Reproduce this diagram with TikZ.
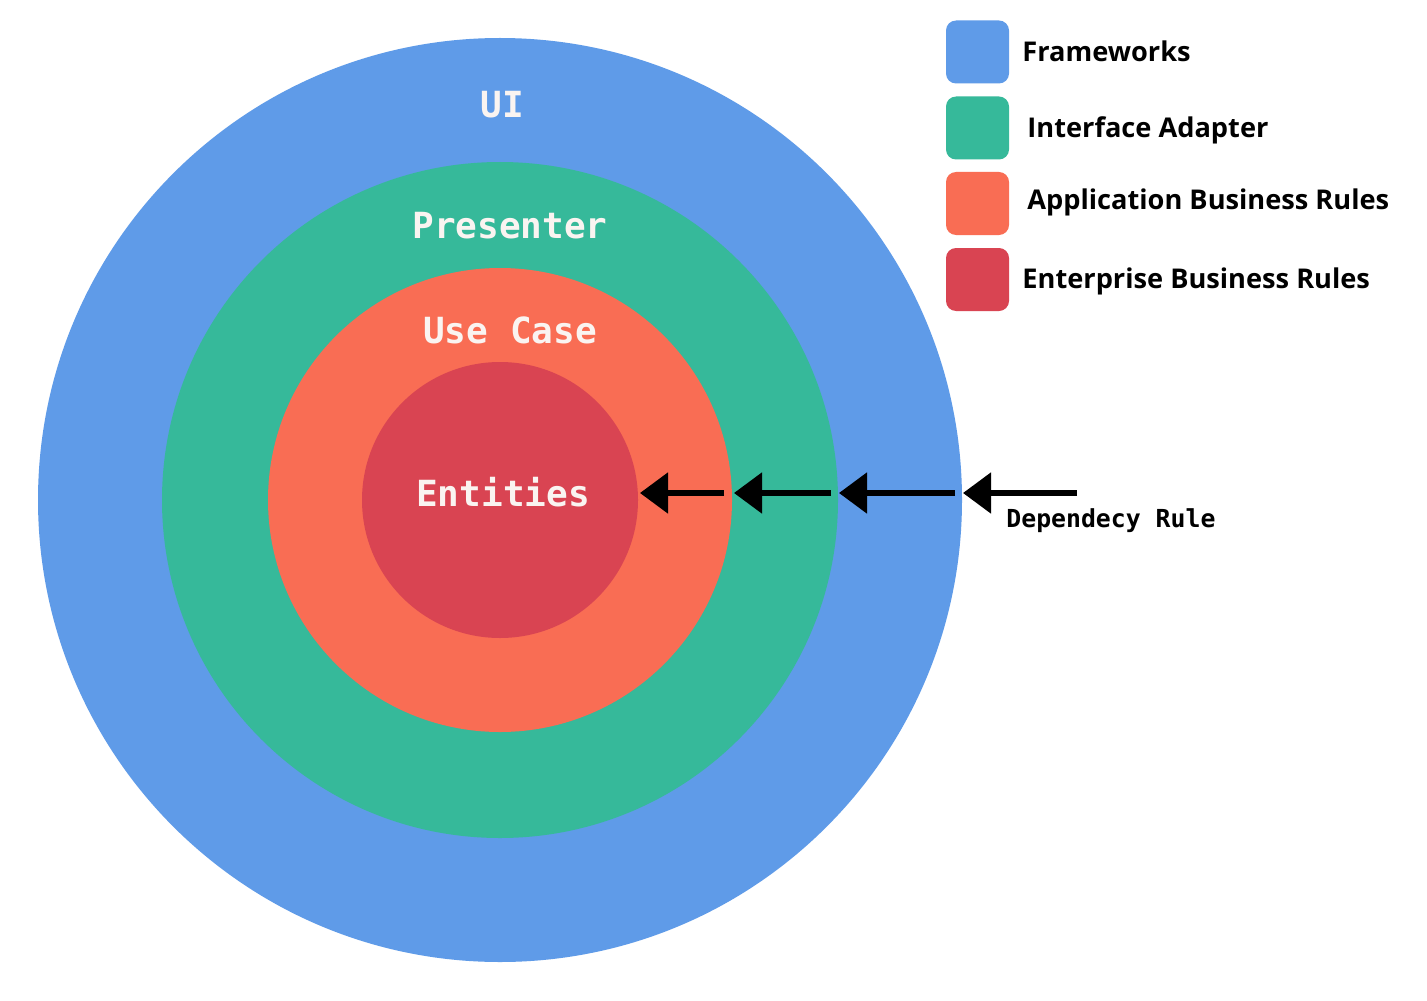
\documentclass[tikz,border=0pt]{standalone}
\usepackage{fontspec}
\setmainfont{Open Sans}
\newfontfamily\monobold{DejaVu Sans Mono}[BoldFont={DejaVu Sans Mono Bold}]
\usetikzlibrary{arrows.meta}
\definecolor{fwblue}{HTML}{5F9BE8}
\definecolor{iagreen}{HTML}{36B99A}
\definecolor{aborange}{HTML}{F96D54}
\definecolor{ebred}{HTML}{D94452}
\definecolor{ringtext}{HTML}{FAF4F1}
\begin{document}
\begin{tikzpicture}[x=0.5pt,y=-0.5pt,
  ring/.style={circle,inner sep=0pt,draw=none},
  ringlabel/.style={text=ringtext,font=\monobold\bfseries\fontsize{18}{20}\selectfont,inner sep=0pt},
  swatch/.style={rounded corners=5pt,minimum size=31.5pt,inner sep=0pt,draw=none},
  legendtext/.style={anchor=base west,inner sep=0pt,font=\bfseries\fontsize{13.6}{16}\selectfont},
  deparrow/.style={line width=2.6pt,-{Triangle[length=14pt,width=20pt]}}]
\useasboundingbox (0,0) rectangle (1427,1000);
\fill[white] (0,0) rectangle (1427,1000);

% concentric layers
\node[ring,fill=fwblue,minimum size=462pt] (frameworks) at (500,500) {};
\node[ring,fill=iagreen,minimum size=338pt] (adapters) at (500,500) {};
\node[ring,fill=aborange,minimum size=232pt] (usecases) at (500,500) {};
\node[ring,fill=ebred,minimum size=138pt] (entities) at (500,500) {};

% layer labels
\node[ringlabel] (lui) at (502,105) {UI};
\node[ringlabel] (lpresenter) at (510,226) {Presenter};
\node[ringlabel] (lusecase) at (510,330) {Use Case};
\node[ringlabel] (lentities) at (503,492) {Entities};

% dependency arrows pointing inward
\coordinate (t1) at (1077,493);
\coordinate (h1) at (963,493);
\coordinate (t2) at (955,493);
\coordinate (h2) at (839,493);
\coordinate (t3) at (831,493);
\coordinate (h3) at (734,493);
\coordinate (t4) at (724,493);
\coordinate (h4) at (640,493);
\draw[deparrow] (t1) -- (h1);
\draw[deparrow] (t2) -- (h2);
\draw[deparrow] (t3) -- (h3);
\draw[deparrow] (t4) -- (h4);
\node[anchor=west,inner sep=0pt,font=\monobold\bfseries\fontsize{12.4}{14}\selectfont] (deprule) at (1006,521) {Dependecy Rule};

% legend
\node[swatch,fill=fwblue] (s1) at (977.5,52) {};
\node[swatch,fill=iagreen] (s2) at (977.5,128) {};
\node[swatch,fill=aborange] (s3) at (977.5,203.5) {};
\node[swatch,fill=ebred] (s4) at (977.5,279.5) {};
\node[legendtext] (l1) at (1022,62) {Frameworks};
\node[legendtext] (l2) at (1027,138) {Interface Adapter};
\node[legendtext] (l3) at (1027,210) {Application Business Rules};
\node[legendtext] (l4) at (1022,288) {Enterprise Business Rules};
\end{tikzpicture}
\end{document}
